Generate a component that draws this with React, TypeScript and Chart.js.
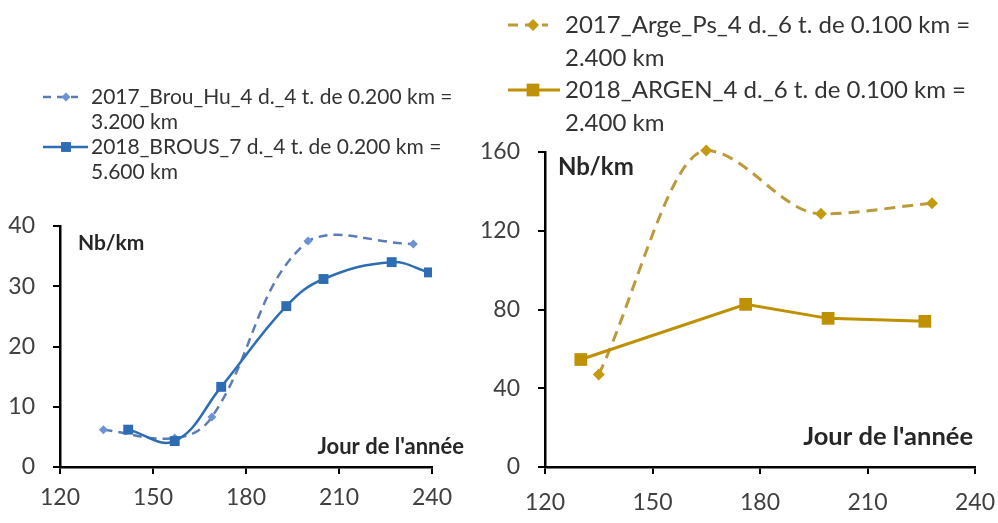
import React, { useEffect, useRef } from 'react';
import { Chart, registerables } from 'chart.js';

Chart.register(...registerables);

// ---------- data ----------
const xTickValues = [120, 150, 180, 210, 240];

const leftDays2017 = [134, 157, 169, 200, 234];
const leftVals2017 = [6.2, 4.8, 8.3, 37.5, 37.0];
const leftDays2018 = [142, 157, 172, 193, 205, 227, 239];
const leftVals2018 = [6.2, 4.3, 13.3, 26.7, 31.2, 34.0, 32.3];
const leftYTicks = [0, 10, 20, 30, 40];

const rightDays2017 = [135, 165, 197, 228];
const rightVals2017 = [47, 160.7, 128.6, 134];
const rightDays2018 = [130, 176, 199, 226];
const rightVals2018 = [54.6, 82.6, 75.5, 74];
const rightYTicks = [0, 40, 80, 120, 160];

const leftLegend2017 = ['2017_Brou_Hu_4 d._4 t. de 0.200 km =', '3.200 km'];
const leftLegend2018 = ['2018_BROUS_7 d._4 t. de 0.200 km =', '5.600 km'];
const rightLegend2017 = ['2017_Arge_Ps_4 d._6 t. de 0.100 km =', '2.400 km'];
const rightLegend2018 = ['2018_ARGEN_4 d._6 t. de 0.100 km =', '2.400 km'];

const yLabel = 'Nb/km';
const xLabel = "Jour de l'année";

// ---------- helpers ----------
const toPts = (xs: number[], ys: number[]) => xs.map((x, i) => ({ x, y: ys[i] }));

function drawMarker(ctx: CanvasRenderingContext2D, style: string, x: number, y: number, r: number, color: string) {
  ctx.fillStyle = color;
  ctx.beginPath();
  if (style === 'rect') {
    const s = r * Math.SQRT1_2;
    ctx.rect(x - s, y - s, 2 * s, 2 * s);
  } else {
    ctx.moveTo(x, y - r);
    ctx.lineTo(x + r, y);
    ctx.lineTo(x, y + r);
    ctx.lineTo(x - r, y);
    ctx.closePath();
  }
  ctx.fill();
}

const overlayPlugin = {
  id: 'overlay',
  afterDraw(chart: any, _args: any, opts: any) {
    const ctx: CanvasRenderingContext2D = chart.ctx;
    const ca = chart.chartArea;
    ctx.save();
    (opts.legend || []).forEach((it: any) => {
      ctx.strokeStyle = it.lineColor;
      ctx.lineWidth = it.lineWidth;
      ctx.setLineDash(it.dash || []);
      ctx.beginPath();
      ctx.moveTo(it.x0, it.y);
      ctx.lineTo(it.x1, it.y);
      ctx.stroke();
      ctx.setLineDash([]);
      drawMarker(ctx, it.marker, it.mx, it.y, it.mr, it.markerColor);
      ctx.fillStyle = '#333333';
      ctx.font = `${it.fontSize}px Lato`;
      ctx.textBaseline = 'middle';
      ctx.textAlign = 'left';
      it.lines.forEach((t: string, i: number) => ctx.fillText(t, it.tx, it.y + i * it.gap));
    });
    const yl = opts.yLabel;
    ctx.fillStyle = '#262626';
    ctx.font = `bold ${yl.size}px Lato`;
    ctx.textBaseline = 'middle';
    ctx.textAlign = 'left';
    ctx.fillText(yl.text, ca.left + yl.dx, ca.top + yl.dy);
    const xl = opts.xLabel;
    ctx.font = `bold ${xl.size}px Lato`;
    ctx.textAlign = 'right';
    ctx.fillText(xl.text, ca.right + xl.dx, ca.bottom + xl.dy);
    ctx.restore();
  },
};

interface PanelProps {
  left: number;
  width: number;
  datasets: any[];
  yMax: number;
  yTicks: number[];
  pad: { top: number; right: number; bottom: number };
  yWidth: number;
  xHeight: number;
  xPad: number;
  overlay: any;
}

function Panel(p: PanelProps) {
  const ref = useRef<HTMLCanvasElement>(null);
  useEffect(() => {
    if (!ref.current) return;
    const tickFont = { family: 'Lato', size: 23 };
    const chart = new Chart(ref.current, {
      type: 'line',
      data: { datasets: p.datasets },
      plugins: [overlayPlugin as any],
      options: {
        responsive: false,
        animation: false,
        layout: { padding: { left: 0, top: p.pad.top, right: p.pad.right, bottom: p.pad.bottom } },
        plugins: {
          legend: { display: false },
          tooltip: { enabled: false },
          overlay: p.overlay,
        } as any,
        scales: {
          x: {
            type: 'linear',
            min: 120,
            max: 240,
            afterBuildTicks: (s: any) => {
              s.ticks = xTickValues.map((v) => ({ value: v }));
            },
            afterFit: (s: any) => {
              s.height = p.xHeight;
              s.paddingLeft = 0;
              s.paddingRight = 0;
            },
            border: { display: true, color: '#000', width: 2.5 },
            grid: { display: true, drawOnChartArea: false, drawTicks: true, tickLength: 7, color: '#000', lineWidth: 2 },
            ticks: { font: tickFont, color: '#404040', padding: p.xPad, maxRotation: 0, autoSkip: false },
          },
          y: {
            type: 'linear',
            min: 0,
            max: p.yMax,
            afterBuildTicks: (s: any) => {
              s.ticks = p.yTicks.map((v) => ({ value: v }));
            },
            afterFit: (s: any) => {
              s.width = p.yWidth;
              s.paddingTop = 0;
              s.paddingBottom = 0;
            },
            border: { display: true, color: '#000', width: 2.5 },
            grid: { display: true, drawOnChartArea: false, drawTicks: true, tickLength: 7, color: '#000', lineWidth: 2 },
            ticks: { font: tickFont, color: '#404040', padding: 18, autoSkip: false },
          },
        },
      } as any,
    });
    return () => chart.destroy();
  }, []);
  return (
    <canvas
      ref={ref}
      width={p.width}
      height={523}
      style={{ position: 'absolute', left: p.left, top: 0, width: p.width, height: 523 }}
    />
  );
}

export default function App() {
  const blueDash = '#5B7DB4';
  const blueDiamond = '#6B93D3';
  const blue = '#2E6DB4';
  const goldDash = '#BA9A3A';
  const goldDiamond = '#C49A10';
  const gold = '#BF9000';

  const leftDatasets = [
    {
      data: toPts(leftDays2017, leftVals2017),
      borderColor: blueDash,
      backgroundColor: blueDiamond,
      borderWidth: 2.5,
      borderDash: [9, 6],
      pointStyle: 'rectRot',
      pointRadius: 4.5,
      pointBorderWidth: 0,
      tension: 0.4,
      order: 2,
    },
    {
      data: toPts(leftDays2018, leftVals2018),
      borderColor: blue,
      backgroundColor: blue,
      borderWidth: 2.5,
      pointStyle: 'rect',
      pointRadius: 7,
      pointBorderWidth: 0,
      tension: 0.4,
      order: 1,
    },
  ];

  const rightDatasets = [
    {
      data: toPts(rightDays2017, rightVals2017),
      borderColor: goldDash,
      backgroundColor: goldDiamond,
      borderWidth: 3,
      borderDash: [11, 7],
      pointStyle: 'rectRot',
      pointRadius: 6,
      pointBorderWidth: 0,
      cubicInterpolationMode: 'monotone',
      clip: false,
      order: 2,
    },
    {
      data: toPts(rightDays2018, rightVals2018),
      borderColor: gold,
      backgroundColor: gold,
      borderWidth: 3,
      pointStyle: 'rect',
      pointRadius: 9,
      pointBorderWidth: 0,
      tension: 0,
      order: 1,
    },
  ];

  const leftOverlay = {
    legend: [
      { lines: leftLegend2017, y: 97, x0: 43, x1: 78, mx: 66, mr: 4.5, marker: 'rectRot', lineColor: blueDash, markerColor: blueDiamond, lineWidth: 2.5, dash: [8, 6], tx: 91, gap: 25, fontSize: 21 },
      { lines: leftLegend2018, y: 147, x0: 43, x1: 88, mx: 66, mr: 7, marker: 'rect', lineColor: blue, markerColor: blue, lineWidth: 2.5, dash: [], tx: 91, gap: 25, fontSize: 21 },
    ],
    yLabel: { text: yLabel, size: 21, dx: 18, dy: 17 },
    xLabel: { text: xLabel, size: 22, dx: 32, dy: -20 },
  };

  const rx = 30; // right canvas offset compensation
  const rightOverlay = {
    legend: [
      { lines: rightLegend2017, y: 25, x0: 8 + rx, x1: 48 + rx, mx: 33 + rx, mr: 6, marker: 'rectRot', lineColor: goldDash, markerColor: goldDiamond, lineWidth: 3, dash: [10, 7], tx: 65 + rx, gap: 33, fontSize: 24 },
      { lines: rightLegend2018, y: 90, x0: 8 + rx, x1: 60 + rx, mx: 33 + rx, mr: 9, marker: 'rect', lineColor: gold, markerColor: gold, lineWidth: 3, dash: [], tx: 65 + rx, gap: 33, fontSize: 24 },
    ],
    yLabel: { text: yLabel, size: 24, dx: 13, dy: 15 },
    xLabel: { text: xLabel, size: 25.5, dx: -2, dy: -30 },
  };

  return (
    <div style={{ position: 'fixed', left: 0, top: 0, width: 998, height: 523, background: '#fff', overflow: 'hidden' }}>
      <Panel
        left={0}
        width={470}
        datasets={leftDatasets}
        yMax={40}
        yTicks={leftYTicks}
        pad={{ top: 226, right: 38, bottom: 4 }}
        yWidth={60}
        xHeight={52}
        xPad={10}
        overlay={leftOverlay}
      />
      <Panel
        left={470}
        width={528}
        datasets={rightDatasets}
        yMax={160}
        yTicks={rightYTicks}
        pad={{ top: 152, right: 23, bottom: 4 }}
        yWidth={75}
        xHeight={52}
        xPad={15}
        overlay={rightOverlay}
      />
    </div>
  );
}
